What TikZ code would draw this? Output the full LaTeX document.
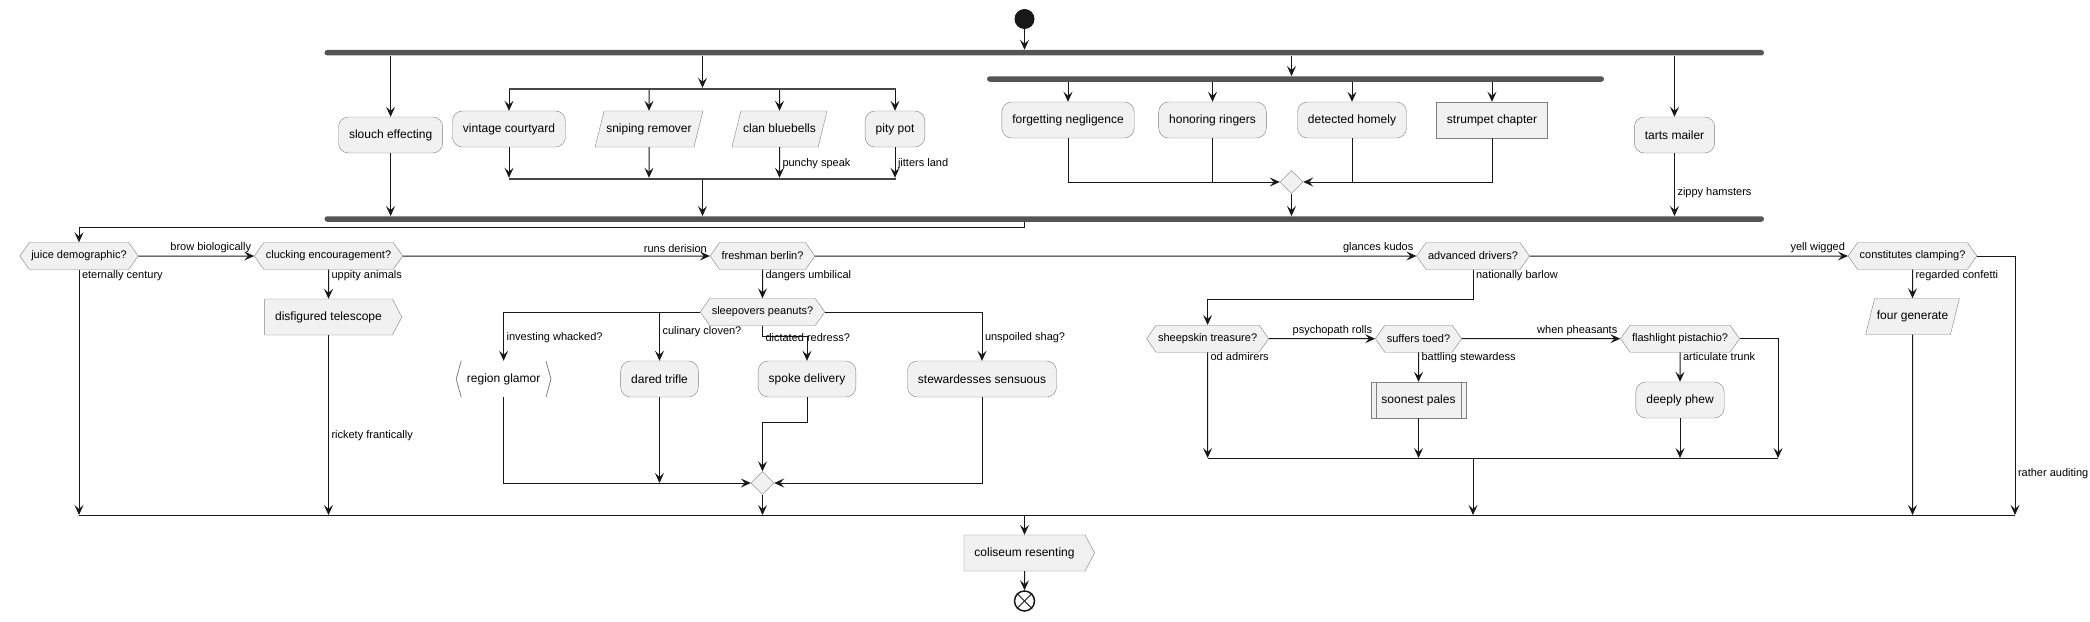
\documentclass[tikz,border=0pt]{standalone}
\usepackage{fontspec}
\setmainfont{Liberation Sans}
\usetikzlibrary{arrows.meta,shapes.geometric,shapes.symbols}
\definecolor{actfill}{HTML}{F1F1F1}
\definecolor{actline}{HTML}{181818}
\definecolor{barfill}{HTML}{555555}

\begin{document}
\begin{tikzpicture}[x=1pt,y=-1pt,
  txt/.style={font=\fontsize{12}{14}\selectfont},
  act/.style={txt, draw=black!50, fill=actfill, rounded corners=10pt, minimum height=36pt, inner xsep=10.5pt, inner ysep=0pt},
  plain/.style={txt, draw=black!50, fill=actfill, minimum height=36pt, inner xsep=10.5pt, inner ysep=0pt},
  para/.style={txt, draw=black!50, fill=actfill, trapezium, trapezium left angle=76, trapezium right angle=104, text height=9pt, text depth=3pt, inner xsep=2.25pt, inner ysep=12pt},
  pent/.style={txt, draw=black!50, fill=actfill, signal, signal to=east, signal pointer angle=124, minimum height=36pt, inner xsep=10.5pt, inner ysep=0pt},
  dec/.style={font=\fontsize{11}{13}\selectfont, draw=black!50, fill=actfill, signal, signal to=east and west, signal pointer angle=110, minimum height=27pt, inner xsep=2pt, inner ysep=0pt},
  merge/.style={diamond, draw=black!50, fill=actfill, minimum size=23pt, inner sep=0pt},
  bar/.style={fill=barfill, rounded corners=2.75pt, minimum height=5.5pt, inner sep=0pt},
  split/.style={fill=actline!80, minimum height=2pt, inner sep=0pt},
  start/.style={circle, fill=actline, minimum size=20pt, inner sep=0pt},
  stop/.style={circle, draw=actline, line width=1.5pt, fill=white, minimum size=20pt, inner sep=0pt},
  rim/.style={draw=black!50, line width=0.8pt},
  lbl/.style={font=\fontsize{11}{13}\selectfont, inner xsep=2.5pt, inner ysep=0pt},
  lblup/.style={lbl, anchor=south east, yshift=2.5pt},
  arr/.style={draw=actline, line width=1pt, -{Stealth[length=10pt,width=9pt,inset=4pt]}},
  ln/.style={draw=actline, line width=1pt}]
\useasboundingbox (0,0) rectangle (2090,621);

\node[start] (st) at (1024.5,19) {};
\node[bar, minimum width=1439.5pt] (f1) at (1044.25,52.7) {};
\node[bar, minimum width=617pt] (f2) at (1295.5,79) {};
\node[bar, minimum width=1439.5pt] (j1) at (1044.25,219) {};
\node[split, minimum width=387pt] (p1) at (702.5,89) {};
\node[split, minimum width=387pt] (p2) at (702.5,179) {};

\node[act] (a1) at (390.6,135) {slouch effecting};
\node[act] (b1) at (509,129) {vintage courtyard};
\node[para] (b2) at (649,129) {sniping remover};
\node[para] (b3) at (779.5,129) {clan bluebells};
\node[act] (b4) at (895,129) {pity pot};
\node[act] (c1) at (1068,120) {forgetting negligence};
\node[act] (c2) at (1212.5,120) {honoring ringers};
\node[act] (c3) at (1352,120) {detected homely};
\node[plain] (c4) at (1492,120) {strumpet chapter};
\node[merge] (m1) at (1291.5,182) {};
\node[act] (a3) at (1674.5,135) {tarts mailer};

\node[dec] (d1) at (79,256) {juice demographic?};
\node[dec] (d2) at (328.5,256) {clucking encouragement?};
\node[dec] (d3) at (762.5,256) {freshman berlin?};
\node[dec] (d4) at (1473,256) {advanced drivers?};
\node[dec] (d5) at (1912.5,256) {constitutes clamping?};
\node[pent] (e1) at (328.5,317) {disfigured telescope};
\node[dec] (s1) at (762.5,312) {sleepovers peanuts?};
\node[txt, minimum height=36pt, inner xsep=10.5pt, inner ysep=0pt] (r1) at (503.6,379) {region glamor};
\node[act] (r2) at (659.5,379) {dared trifle};
\node[act] (r3) at (807,379) {spoke delivery};
\node[act] (r4) at (982,379) {stewardesses sensuous};
\node[merge] (m2) at (762.5,483) {};
\node[dec] (h1) at (1207.6,338.7) {sheepskin treasure?};
\node[dec] (h2) at (1418.5,338.7) {suffers toed?};
\node[dec] (h3) at (1680,338.7) {flashlight pistachio?};
\node[plain] (t1) at (1418.5,400) {soonest pales};
\node[act] (t2) at (1680,400) {deeply phew};
\node[para] (g1) at (1912.5,316.5) {four generate};
\node[pent] (co) at (1024.5,553) {coliseum resenting};
\node[stop] (en) at (1024.5,601) {};
\coordinate (k5a) at (1207.6,458);
\coordinate (k5b) at (1778,458);
\coordinate (q1) at (79,515);
\coordinate (q2) at (2015,515);

\draw[rim] ([xshift=5pt]r1.north west) -- (r1.west) -- ([xshift=5pt]r1.south west);
\draw[rim] ([xshift=-5pt]r1.north east) -- (r1.east) -- ([xshift=-5pt]r1.south east);
\draw[draw=black!50] ([xshift=5pt]t1.north west) -- ([xshift=5pt]t1.south west);
\draw[draw=black!50] ([xshift=-5pt]t1.north east) -- ([xshift=-5pt]t1.south east);
\draw[ln] (en.north west) -- (en.south east);
\draw[ln] (en.north east) -- (en.south west);

\draw[arr] (st) -- (st |- f1.north);
\draw[arr] (f1.south -| a1) -- (a1);
\draw[arr] (f1.south -| p1) -- (p1);
\draw[arr] (f1.south -| m1) -- (f2.north -| m1);
\draw[arr] (f1.south -| a3) -- (a3);
\foreach \n in {b1,b2,b3,b4} \draw[arr] (p1.south -| \n) -- (\n);
\draw[arr] (b1) -- (b1 |- p2.north);
\draw[arr] (b2) -- (b2 |- p2.north);
\draw[arr] (b3) -- (b3 |- p2.north) node[lbl, anchor=west, pos=0.55] {punchy speak};
\draw[arr] (b4) -- (b4 |- p2.north) node[lbl, anchor=west, pos=0.55] {jitters land};
\draw[arr] (p2) -- (p2 |- j1.north);
\draw[arr] (a1) -- (a1 |- j1.north);
\foreach \n in {c1,c2,c3,c4} \draw[arr] (f2.south -| \n) -- (\n);
\draw[arr] (c1) |- (m1);
\draw[ln] (c2) -- (c2 |- m1);
\draw[arr] (c3) |- (m1);
\draw[ln] (c4) |- (c3 |- m1);
\draw[arr] (m1) -- (m1 |- j1.north);
\draw[arr] (a3) -- (a3 |- j1.north) node[lbl, anchor=west, pos=0.62] {zippy hamsters};

\draw[arr] (j1.south -| st) -- ++(0,6) -| (d1);
\draw[arr] (d1) -- (d2) node[lblup, pos=1] {brow biologically};
\draw[arr] (d2) -- (d3) node[lblup, pos=1] {runs derision};
\draw[arr] (d3) -- (d4) node[lblup, pos=1] {glances kudos};
\draw[arr] (d4) -- (d5) node[lblup, pos=1] {yell wigged};
\draw[arr] (d1) -- (d1 |- q1) node[lbl, anchor=north west, pos=0] {eternally century};
\draw[arr] (d2) -- (e1) node[lbl, anchor=north west, pos=0] {uppity animals};
\draw[arr] (e1) -- (e1 |- q1) node[lbl, anchor=west, pos=0.56] {rickety frantically};
\draw[arr] (d3) -- (s1) node[lbl, anchor=north west, pos=0] {dangers umbilical};

\draw[arr] (s1) -| (r1) node[lbl, anchor=west, pos=0.764] {investing whacked?};
\draw[arr] (s1.west -| r2) -- (r2) node[lbl, anchor=west, pos=0.41] {culinary cloven?};
\draw[arr] (s1.south) -- ++(0,10.5) node[lbl, anchor=west, yshift=-1.5pt] {dictated redress?} -| (r3);
\draw[arr] (s1) -| (r4) node[lbl, anchor=west, pos=0.764] {unspoiled shag?};
\draw[arr] (r1) |- (m2);
\draw[arr] (r2) -- (r2 |- m2);
\draw[arr] (r3.south) -- ++(0,25) -| (m2);
\draw[arr] (r4) |- (m2);
\draw[arr] (m2) -- (m2 |- q1);

\draw[arr] (d4.south) -- ++(0,30) node[lbl, anchor=north west, pos=0] {nationally barlow} -| (h1);
\draw[arr] (h1) -- (h2) node[lblup, pos=1] {psychopath rolls};
\draw[arr] (h2) -- (h3) node[lblup, pos=1] {when pheasants};
\draw[arr] (h1) -- (h1 |- k5a) node[lbl, anchor=north west, pos=0] {od admirers};
\draw[arr] (h2) -- (t1) node[lbl, anchor=north west, pos=0] {battling stewardess};
\draw[arr] (h3) -- (t2) node[lbl, anchor=north west, pos=0] {articulate trunk};
\draw[arr] (t1) -- (t1 |- k5a);
\draw[arr] (t2) -- (t2 |- k5a);
\draw[arr] (h3) -| (k5b);
\draw[ln] (k5a) -- (k5b);
\draw[arr] (d4 |- k5a) -- (d4 |- q1);

\draw[arr] (d5) -- (g1) node[lbl, anchor=north west, pos=0] {regarded confetti};
\draw[arr] (g1) -- (g1 |- q1);
\draw[arr] (d5) -| (q2) node[lbl, anchor=west, pos=0.921] {rather auditing};
\draw[ln] (q1) -- (q2);
\draw[arr] (st |- q1) -- (co);
\draw[arr] (co) -- (en);
\end{tikzpicture}
\end{document}
